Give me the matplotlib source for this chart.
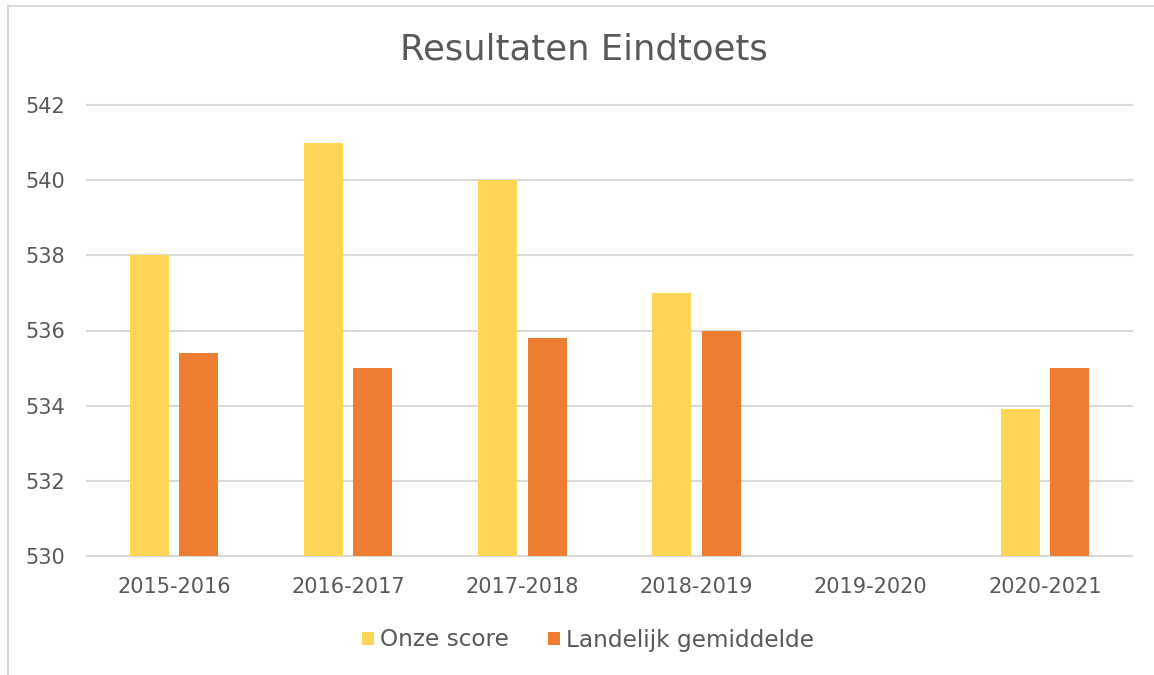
import matplotlib
matplotlib.use("Agg")
import matplotlib.pyplot as plt
import numpy as np
from matplotlib.lines import Line2D

categories = ["2015-2016", "2016-2017", "2017-2018", "2018-2019", "2019-2020", "2020-2021"]
onze_score = [538, 541, 540, 537, np.nan, 533.9]
landelijk = [535.4, 535, 535.8, 536, np.nan, 535]
yticks = [530, 532, 534, 536, 538, 540, 542]

plt.rcParams['font.family'] = ['DejaVu Sans']
txt = '#595959'
grid = '#D9D9D9'

fig = plt.figure(figsize=(11.54, 6.75), dpi=100)
bx, by = 7.5/1154, 1 - 6/675
fig.lines.append(Line2D([bx, bx], [0, by], transform=fig.transFigure, color=grid, linewidth=1.5))
fig.lines.append(Line2D([bx, 1], [by, by], transform=fig.transFigure, color=grid, linewidth=1.5))

ax = fig.add_axes([87/1154, 1 - 556/675, (1132 - 87)/1154, (556 - 105)/675])

x = np.arange(len(categories))
w = 0.224
off = 0.142
ax.bar(x - off, np.array(onze_score) - 530, w, bottom=530, color='#FFD555', label='Onze score', zorder=3)
ax.bar(x + off, np.array(landelijk) - 530, w, bottom=530, color='#ED7D31', label='Landelijk gemiddelde', zorder=3)

ax.set_xlim(-0.5, len(categories) - 0.5)
ax.set_ylim(530, 542)
ax.set_yticks(yticks)
ax.set_yticklabels([str(t) for t in yticks], fontsize=15, color=txt)
ax.set_xticks(x)
ax.set_xticklabels(categories, fontsize=15, color=txt)
ax.tick_params(length=0)
ax.tick_params(axis='y', pad=16)
ax.tick_params(axis='x', pad=15)
ax.yaxis.grid(True, color=grid, linewidth=1.5, zorder=0)
for gl in ax.get_ygridlines():
    gl.set_clip_on(False)
ax.set_axisbelow(True)
for s in ['top', 'right', 'left']:
    ax.spines[s].set_visible(False)
ax.spines['bottom'].set_color(grid)
ax.spines['bottom'].set_linewidth(1.5)

fig.text(584/1154, 1 - 60/675, 'Resultaten Eindtoets', ha='center', va='baseline', fontsize=25.5, color=txt)

leg = fig.legend(loc='center', bbox_to_anchor=(588/1154, 1 - 640/675), ncol=2, frameon=False,
                 fontsize=16.7, handlelength=0.52, handleheight=0.52, handletextpad=0.26, columnspacing=1.68)
for t in leg.get_texts():
    t.set_color(txt)

fig.savefig('out.png', dpi=100)
